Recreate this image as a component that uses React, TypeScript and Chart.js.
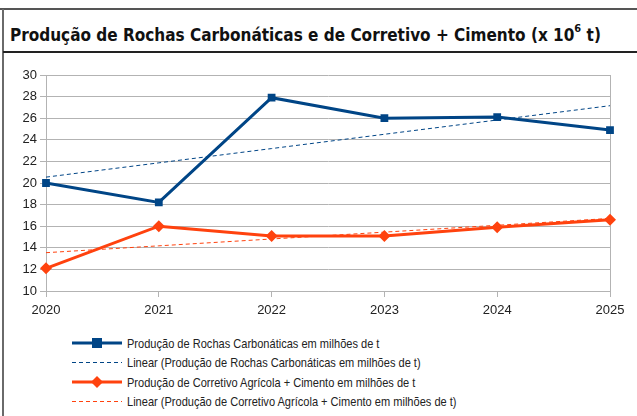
import React, { useEffect, useRef } from "react";
import { Chart, registerables } from "chart.js";
Chart.register(...registerables);

const years = ["2020", "2021", "2022", "2023", "2024", "2025"];
const rochas = [20.0, 18.2, 27.9, 26.0, 26.1, 24.9];
const corretivo = [12.1, 16.0, 15.1, 15.1, 15.9, 16.6];
const yMin = 10;
const yMax = 30;
const yStep = 2;

const titleMain = "Produção de Rochas Carbonáticas e de Corretivo + Cimento (x 10";
const titleSup = "6";
const titleEnd = " t)";

const legendLabels = [
  "Produção de Rochas Carbonáticas em milhões de t",
  "Linear (Produção de Rochas Carbonáticas em milhões de t)",
  "Produção de Corretivo Agrícola + Cimento em milhões de t",
  "Linear (Produção de Corretivo Agrícola + Cimento em milhões de t)",
];

const BLUE = "#004586";
const ORANGE = "#ff420e";
const GRID = "#b3b3b3";
const TEXT = "#222222";

function linearTrend(v: number[]): number[] {
  const n = v.length;
  const mx = (n - 1) / 2;
  const my = v.reduce((a, b) => a + b, 0) / n;
  let sxy = 0;
  let sxx = 0;
  v.forEach((y, i) => {
    sxy += (i - mx) * (y - my);
    sxx += (i - mx) * (i - mx);
  });
  const slope = sxy / sxx;
  return v.map((_, i) => my + slope * (i - mx));
}

function LegendRow({ kind, color, label, top }: { kind: string; color: string; label: string; top: number }) {
  return (
    <div style={{ position: "absolute", left: 72, top: top - 10, height: 20, display: "flex", alignItems: "center", whiteSpace: "nowrap" }}>
      <svg width={52} height={20} style={{ display: "block" }}>
        {kind === "dash" ? (
          <line x1={0} y1={10.5} x2={50} y2={10.5} stroke={color} strokeWidth={1} strokeDasharray="4 3" />
        ) : (
          <line x1={0} y1={10} x2={50} y2={10} stroke={color} strokeWidth={3} />
        )}
        {kind === "square" && <rect x={20} y={5} width={10} height={10} fill={color} />}
        {kind === "diamond" && <polygon points="25,4 31,10 25,16 19,10" fill={color} />}
      </svg>
      <span
        style={{
          marginLeft: 3,
          display: "inline-block",
          transform: "scaleX(0.85)",
          transformOrigin: "left center",
          fontFamily: "'Liberation Sans', Arial, sans-serif",
          fontSize: 13,
          color: TEXT,
        }}
      >
        {label}
      </span>
    </div>
  );
}

export default function App() {
  const canvasRef = useRef<HTMLCanvasElement | null>(null);

  useEffect(() => {
    if (!canvasRef.current) return;
    const chart = new Chart(canvasRef.current, {
      type: "line",
      data: {
        labels: years,
        datasets: [
          {
            label: legendLabels[0],
            data: rochas,
            borderColor: BLUE,
            backgroundColor: BLUE,
            borderWidth: 3,
            pointStyle: "rect",
            pointRadius: 5.5,
            pointBorderWidth: 0,
            tension: 0,
          },
          {
            label: legendLabels[1],
            data: linearTrend(rochas),
            borderColor: BLUE,
            borderWidth: 1,
            borderDash: [4, 3],
            pointRadius: 0,
          },
          {
            label: legendLabels[2],
            data: corretivo,
            borderColor: ORANGE,
            backgroundColor: ORANGE,
            borderWidth: 3,
            pointStyle: "rectRot",
            pointRadius: 6,
            pointBorderWidth: 0,
            tension: 0,
          },
          {
            label: legendLabels[3],
            data: linearTrend(corretivo),
            borderColor: ORANGE,
            borderWidth: 1,
            borderDash: [4, 3],
            pointRadius: 0,
          },
        ],
      },
      options: {
        animation: false,
        responsive: false,
        devicePixelRatio: 1,
        layout: { padding: { top: 20, right: 27, left: 0, bottom: 0 } },
        plugins: { legend: { display: false }, tooltip: { enabled: false }, title: { display: false } },
        scales: {
          x: {
            type: "category",
            offset: false,
            afterFit: (s: any) => {
              s.height = 30;
            },
            grid: {
              color: (ctx: any) => (ctx.index === years.length - 1 ? GRID : "rgba(0,0,0,0)"),
              tickColor: GRID,
              tickLength: 6,
              lineWidth: 1,
            },
            border: { display: true, color: GRID },
            ticks: {
              color: TEXT,
              font: { family: "'Liberation Sans', Arial, sans-serif", size: 13 },
              padding: 6,
              maxRotation: 0,
              autoSkip: false,
            },
          },
          y: {
            min: yMin,
            max: yMax,
            afterFit: (s: any) => {
              s.width = 43;
            },
            grid: { color: GRID, tickColor: GRID, tickLength: 6, lineWidth: 1 },
            border: { display: true, color: GRID },
            ticks: {
              stepSize: yStep,
              color: TEXT,
              font: { family: "'Liberation Sans', Arial, sans-serif", size: 13 },
              padding: 3,
            },
          },
        },
      },
    });
    return () => chart.destroy();
  }, []);

  return (
    <div style={{ position: "fixed", left: 0, top: 0, width: 637, height: 416, background: "#fff", overflow: "hidden" }}>
      <div style={{ position: "absolute", left: 0, top: 8, width: 637, height: 2, background: "#555" }} />
      <div style={{ position: "absolute", left: 2, top: 9, width: 2, height: 407, background: "#6a6a6a" }} />
      <div style={{ position: "absolute", left: 3, top: 51, width: 634, height: 2, background: "#222" }} />
      <div
        style={{
          position: "absolute",
          left: 10,
          top: 20,
          fontFamily: "'DejaVu Sans Condensed', 'DejaVu Sans', sans-serif",
          fontWeight: "bold",
          fontSize: 17,
          color: "#111",
          whiteSpace: "nowrap",
          lineHeight: "22px",
        }}
      >
        {titleMain}
        <sup style={{ fontSize: 11, position: "relative", top: -2 }}>{titleSup}</sup>
        {titleEnd}
      </div>
      <div style={{ position: "absolute", left: 3, top: 55, width: 634, height: 266 }}>
        <canvas ref={canvasRef} width={634} height={266} style={{ display: "block", width: 634, height: 266 }} />
      </div>
      <LegendRow kind="square" color={BLUE} label={legendLabels[0]} top={343} />
      <LegendRow kind="dash" color={BLUE} label={legendLabels[1]} top={362} />
      <LegendRow kind="diamond" color={ORANGE} label={legendLabels[2]} top={382} />
      <LegendRow kind="dash" color={ORANGE} label={legendLabels[3]} top={401} />
    </div>
  );
}
